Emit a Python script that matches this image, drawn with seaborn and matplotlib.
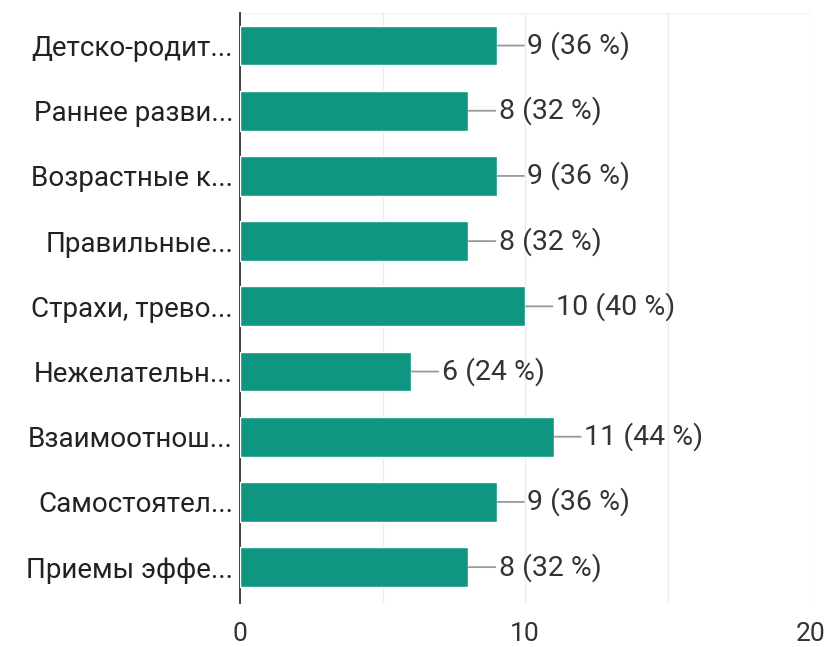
import pandas as pd
import matplotlib.pyplot as plt
import seaborn as sns

# -----------------------------
# Data
# -----------------------------
labels = [
    "Детско-родит...",
    "Раннее разви...",
    "Возрастные к...",
    "Правильные...",
    "Страхи, трево...",
    "Нежелательн...",
    "Взаимоотнош...",
    "Самостоятел...",
    "Приемы эффе...",
]
counts = [9, 8, 9, 8, 10, 6, 11, 9, 8]
percents = [36, 32, 36, 32, 40, 24, 44, 36, 32]
x_ticks = [0, 10, 20]

df = pd.DataFrame({"label": labels, "count": counts, "pct": percents})

bar_color = "#0e9681"
text_color = "#333333"

sns.set_theme(style="white")
plt.rcParams["font.family"] = ["Roboto", "DejaVu Sans"]

fig = plt.figure(figsize=(8.35, 6.47), dpi=100)
ax = fig.add_axes([0.2874, 0.068, 0.683, 0.912])

sns.barplot(data=df, x="count", y="label", color=bar_color, width=0.61,
            saturation=1, ax=ax, zorder=3)

# value labels with short connector line
for i, (c, p) in enumerate(zip(counts, percents)):
    ax.annotate(f"{c} ({p} %)", xy=(c, i), xytext=(22, 0),
                textcoords="offset points", va="center", ha="left",
                fontsize=20.5, color=text_color,
                arrowprops=dict(arrowstyle="-", color="#999999", lw=1.3,
                                shrinkA=0, shrinkB=0.5))

ax.set_xlim(0, 20)
ax.set_ylim(8.55, -0.5)
ax.set_xticks(x_ticks)
ax.set_xticks([5, 15], minor=True)
ax.grid(axis="x", which="both", color="#ececec", lw=1, zorder=0)
ax.tick_params(axis="x", which="both", length=0, pad=14, labelsize=19,
               labelcolor=text_color)
ax.tick_params(axis="y", length=0, pad=5, labelsize=20, labelcolor="#222222")
ax.set_xlabel("")
ax.set_ylabel("")

for s in ["top", "right", "bottom"]:
    ax.spines[s].set_visible(False)
ax.spines["left"].set_color("#333333")
ax.spines["left"].set_linewidth(1.3)
ax.axhline(-0.5, color="#f2f2f2", lw=1, zorder=0)

fig.savefig("out.png", dpi=100)
